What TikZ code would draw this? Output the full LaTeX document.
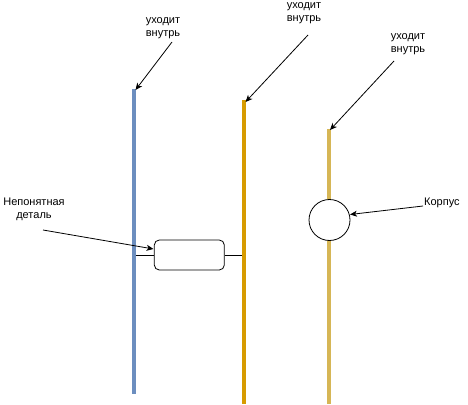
\documentclass[tikz,border=0pt]{standalone}
\usepackage{fontspec}
\setmainfont{Liberation Sans}
\usetikzlibrary{arrows.meta}
\tikzset{
  lbl/.style={font=\fontsize{11}{13}\selectfont, align=center, inner sep=0pt},
  arr/.style={draw=black, line width=0.8pt, -{Stealth[length=7pt,width=6pt,inset=2pt]}},
  wire/.style={draw=black, line width=0.8pt}
}
\definecolor{cblue}{HTML}{6C8EBF}
\definecolor{corange}{HTML}{D79B00}
\definecolor{cgold}{HTML}{D6B656}
\begin{document}
\begin{tikzpicture}[x=1pt,y=-1pt]
\useasboundingbox (0,0) rectangle (468,404);
% rails
\coordinate (b1) at (134,89);
\coordinate (b2) at (134,394);
\coordinate (o1) at (244,100);
\coordinate (o2) at (244,404);
\coordinate (g1) at (329,129);
\coordinate (g2) at (329,404);
\draw[cblue, line width=3.2pt] (b1) -- (b2);
\draw[corange, line width=4pt] (o1) -- (o2);
\draw[cgold, line width=3.4pt] (g1) -- (g2);
% part
\node[draw=black, line width=0.8pt, fill=white, rounded corners=5pt, minimum width=70pt, minimum height=30pt, inner sep=0pt] (part) at (189.3,255) {};
\coordinate (pl) at (135.5,255);
\coordinate (pr) at (242,255);
\draw[wire] (pl) -- (part.west);
\draw[wire] (part.east) -- (pr);
% body
\node[draw=black, line width=0.8pt, fill=white, circle, minimum size=41pt, inner sep=0pt] (body) at (329.5,220) {};
% labels
\node[lbl] (t1) at (163,28.5) {уходит\\внутрь};
\node[lbl] (t2) at (304,13) {уходит\\внутрь};
\node[lbl] (t3) at (408,44) {уходит\\внутрь};
\node[lbl] (t4) at (34,209) {Непонятная\\деталь};
\node[lbl, anchor=west] (t5) at (424,202.5) {Корпус};
% arrow anchors
\coordinate (s1) at (172,42);
\coordinate (s2) at (308,35);
\coordinate (s3) at (394,61);
\coordinate (s4) at (43,230);
\coordinate (s5) at (423,206);
\coordinate (e1) at (135.5,90);
\coordinate (e2) at (245.5,102);
\coordinate (e3) at (330,130);
\coordinate (e4) at (153.5,249);
\coordinate (e5) at (350,214.5);
\draw[arr] (s1) -- (e1);
\draw[arr] (s2) -- (e2);
\draw[arr] (s3) -- (e3);
\draw[arr] (s4) -- (e4);
\draw[arr] (s5) -- (e5);
\end{tikzpicture}
\end{document}
